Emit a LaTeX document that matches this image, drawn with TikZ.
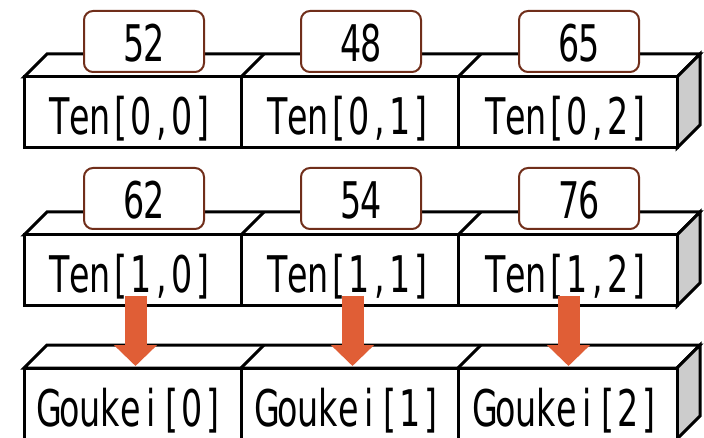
\documentclass[tikz,border=0pt]{standalone}
\usepackage{fontspec}
\newfontfamily\cellfont[FakeStretch=0.66]{DejaVu Sans}
\usetikzlibrary{arrows.meta}
\ExplSyntaxOn
\NewDocumentCommand\monotext{m}{\tl_map_inline:nn{#1}{\makebox[20.5pt][c]{##1}}}
\ExplSyntaxOff
\definecolor{arrowor}{RGB}{224,94,54}
\definecolor{valbrown}{RGB}{112,46,26}
\definecolor{sidegray}{RGB}{204,204,204}
\tikzset{
  cellbox/.style={draw=black, line width=3pt, fill=white, minimum height=71pt, inner sep=0pt, outer sep=0pt, anchor=north west},
  face/.style={draw=black, line width=3pt, fill=white, line join=miter},
  sideface/.style={draw=black, line width=3pt, fill=sidegray, line join=miter},
  valbox/.style={draw=valbrown, line width=2pt, fill=white, rounded corners=9pt, minimum width=120pt, minimum height=61pt, inner sep=0pt, anchor=north},
  celltext/.style={font=\cellfont\fontsize{50.5}{50.5}\selectfont, inner sep=0pt, anchor=base},
  bigarrow/.style={draw=arrowor, line width=22pt, -{Triangle[width=42pt,length=21pt]}}
}
\begin{document}
\begin{tikzpicture}[x=1pt,y=-1pt]
\useasboundingbox (0,0) rectangle (704,438);
% rows: top y
\foreach \r/\ty in {0/77,1/235,2/368}{
  % top face
  \draw[face] (24,\ty) -- ++(23,-23) -- (700,\ty-23) -- (677,\ty) -- cycle;
  \draw[line width=3pt] (241,\ty) -- ++(23,-23);
  \draw[line width=3pt] (458,\ty) -- ++(23,-23);
  % side face
  \draw[sideface] (677,\ty) -- (700,\ty-23) -- (700,\ty+48) -- (677,\ty+71) -- cycle;
}
% value boxes
\node[valbox] (v00) at (144,10) {};
\node[valbox] (v01) at (361,10) {};
\node[valbox] (v02) at (579,10) {};
\node[valbox] (v10) at (144,167) {};
\node[valbox] (v11) at (361,167) {};
\node[valbox] (v12) at (579,167) {};
\node[celltext] (n00) at (144,62) {\monotext{52}};
\node[celltext] (n01) at (361,62) {\monotext{48}};
\node[celltext] (n02) at (579,62) {\monotext{65}};
\node[celltext] (n10) at (144,219) {\monotext{62}};
\node[celltext] (n11) at (361,219) {\monotext{54}};
\node[celltext] (n12) at (579,219) {\monotext{76}};
% front cells
\node[cellbox, minimum width=217pt] (t00) at (24,77) {};
\node[cellbox, minimum width=217pt] (t01) at (241,77) {};
\node[cellbox, minimum width=219pt] (t02) at (458,77) {};
\node[cellbox, minimum width=217pt] (t10) at (24,235) {};
\node[cellbox, minimum width=217pt] (t11) at (241,235) {};
\node[cellbox, minimum width=219pt] (t12) at (458,235) {};
\node[cellbox, minimum width=217pt] (g0) at (24,368) {};
\node[cellbox, minimum width=217pt] (g1) at (241,368) {};
\node[cellbox, minimum width=219pt] (g2) at (458,368) {};
% texts
\node[celltext] (l00) at (131,135) {\monotext{Ten[0,0]}};
\node[celltext] (l01) at (349,135) {\monotext{Ten[0,1]}};
\node[celltext] (l02) at (567,135) {\monotext{Ten[0,2]}};
\node[celltext] (l10) at (131,293) {\monotext{Ten[1,0]}};
\node[celltext] (l11) at (349,293) {\monotext{Ten[1,1]}};
\node[celltext] (l12) at (567,293) {\monotext{Ten[1,2]}};
\node[celltext] (lg0) at (131,426) {\monotext{Goukei[0]}};
\node[celltext] (lg1) at (349,426) {\monotext{Goukei[1]}};
\node[celltext] (lg2) at (567,426) {\monotext{Goukei[2]}};
% arrows
\draw[bigarrow] ([xshift=3pt,yshift=10pt]t10.south) -- ([xshift=3pt,yshift=2pt]g0.north);
\draw[bigarrow] ([xshift=3pt,yshift=10pt]t11.south) -- ([xshift=3pt,yshift=2pt]g1.north);
\draw[bigarrow] ([xshift=1pt,yshift=10pt]t12.south) -- ([xshift=1pt,yshift=2pt]g2.north);
\end{tikzpicture}
\end{document}
